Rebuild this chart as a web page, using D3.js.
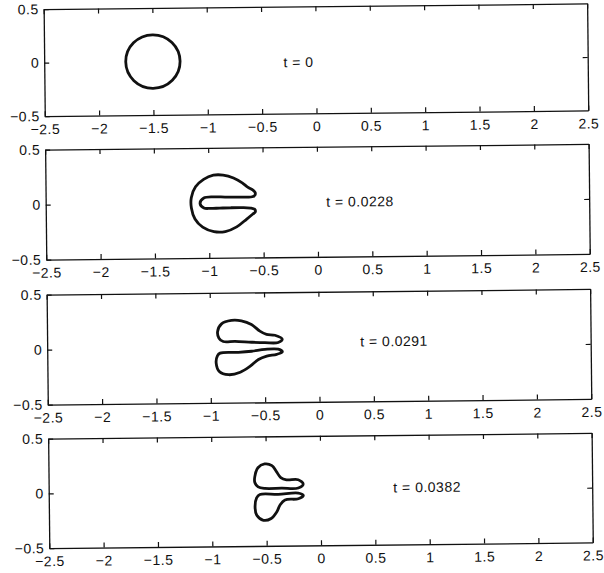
<!DOCTYPE html>
<html>
<head>
<meta charset="utf-8">
<script src="https://cdn.jsdelivr.net/npm/d3@7"></script>
<style>
  body { margin: 0; background: #fff; }
  svg { display: block; }
</style>
</head>
<body>
<svg id="chart" width="604" height="573"></svg>
<script>
// Axis ticks and their printed labels
const xTicks = [-2.5, -2, -1.5, -1, -0.5, 0, 0.5, 1, 1.5, 2, 2.5];
const xTickLabels = ["\u22122.5", "\u22122", "\u22121.5", "\u22121", "\u22120.5", "0", "0.5", "1", "1.5", "2", "2.5"];
const yTicks = [-0.5, 0, 0.5];
const yTickLabels = ["\u22120.5", "0", "0.5"];

// Time of each snapshot
const times = ["0", "0.0228", "0.0291", "0.0382"];

// t = 0: circular drop
const circle0 = { cx: -1.5, cy: 0, r: 0.25 };

// t = 0.0228: drop folded into a C, a thin slot along the axis
const drop0228 = [
  [-0.572, 0.09], [-0.595, 0.115], [-0.64, 0.14], [-0.69, 0.18], [-0.77, 0.225],
  [-0.865, 0.252], [-0.955, 0.252], [-1.045, 0.215], [-1.12, 0.148], [-1.16, 0.05],
  [-1.16, -0.045], [-1.128, -0.145], [-1.058, -0.22], [-0.955, -0.262], [-0.85, -0.262],
  [-0.745, -0.22], [-0.652, -0.15], [-0.595, -0.105], [-0.572, -0.085], [-0.578, -0.062],
  [-0.615, -0.05], [-0.70, -0.046], [-0.80, -0.046], [-0.90, -0.048], [-0.99, -0.05],
  [-1.045, -0.045], [-1.08, -0.003], [-1.045, 0.045], [-0.955, 0.055], [-0.85, 0.052],
  [-0.75, 0.05], [-0.65, 0.05], [-0.60, 0.052], [-0.575, 0.065]
];

// t = 0.0291: two separated lobes
const upper0291 = [
  [-0.931, 0.148], [-0.894, 0.218], [-0.803, 0.248], [-0.711, 0.243], [-0.619, 0.209],
  [-0.542, 0.148], [-0.481, 0.118], [-0.404, 0.109], [-0.337, 0.073], [-0.374, 0.043],
  [-0.496, 0.043], [-0.619, 0.048], [-0.772, 0.057], [-0.880, 0.057], [-0.919, 0.088]
];
const lower0291 = [
  [-0.910, -0.048], [-0.742, -0.043], [-0.619, -0.034], [-0.496, -0.018], [-0.374, -0.018],
  [-0.337, -0.043], [-0.389, -0.064], [-0.481, -0.079], [-0.558, -0.109], [-0.634, -0.170],
  [-0.726, -0.224], [-0.834, -0.245], [-0.919, -0.215], [-0.947, -0.139], [-0.935, -0.073]
];

// t = 0.0382: two lobes with round heads and long thin arms
const upper0382 = [
  [-0.603, 0.131], [-0.573, 0.214], [-0.511, 0.248], [-0.444, 0.232], [-0.403, 0.177],
  [-0.364, 0.122], [-0.311, 0.101], [-0.204, 0.101], [-0.158, 0.061], [-0.204, 0.025],
  [-0.357, 0.025], [-0.511, 0.025], [-0.573, 0.040], [-0.603, 0.080]
];
const lower0382 = [
  [-0.557, -0.030], [-0.389, -0.030], [-0.204, -0.021], [-0.158, -0.043], [-0.204, -0.073],
  [-0.327, -0.082], [-0.373, -0.128], [-0.403, -0.189], [-0.456, -0.250], [-0.527, -0.266],
  [-0.588, -0.220], [-0.603, -0.144], [-0.588, -0.061]
];

// Layout
const frame = { left: 46.5, right: 590 };
const panelRows = [
  { top: 6.5, bottom: 113.5 },
  { top: 147, bottom: 257 },
  { top: 292, bottom: 402 },
  { top: 436, bottom: 545.5 }
];
const labelSpots = [[-0.30, -0.02], [0.08, 0], [0.38, 0.045], [0.67, 0.022]];
const shapesByPanel = [[], [drop0228], [upper0291, lower0291], [upper0382, lower0382]];

const FONT = "'Liberation Sans', Arial, Helvetica, sans-serif";
const INK = "#111";

const svg = d3.select("#chart");
const root = svg.append("g").attr("transform", "rotate(-0.6 300 280)");

function styleAxis(sel) {
  sel.attr("font-family", FONT).attr("font-size", 14);
  sel.select(".domain").attr("stroke", INK).attr("stroke-width", 1.3);
  sel.selectAll(".tick line").attr("stroke", INK).attr("stroke-width", 1.2);
  sel.selectAll(".tick text").attr("fill", INK).style("letter-spacing", "0.5px");
}

panelRows.forEach((row, i) => {
  const x = d3.scaleLinear().domain([-2.5, 2.5]).range([frame.left, frame.right]);
  const y = d3.scaleLinear().domain([-0.5, 0.5]).range([row.bottom, row.top]);
  const g = root.append("g").attr("class", "panel");

  g.append("g")
    .attr("transform", `translate(0,${row.bottom})`)
    .call(d3.axisBottom(x).tickValues(xTicks).tickFormat((d, k) => xTickLabels[k])
      .tickSizeInner(-5).tickSizeOuter(0).tickPadding(8))
    .call(styleAxis);

  g.append("g")
    .attr("transform", `translate(0,${row.top})`)
    .call(d3.axisTop(x).tickValues(xTicks).tickFormat(() => "")
      .tickSizeInner(-5).tickSizeOuter(0))
    .call(styleAxis);

  g.append("g")
    .attr("transform", `translate(${frame.left},0)`)
    .call(d3.axisLeft(y).tickValues(yTicks).tickFormat((d, k) => yTickLabels[k])
      .tickSizeInner(-5).tickSizeOuter(0).tickPadding(5))
    .call(styleAxis);

  g.append("g")
    .attr("transform", `translate(${frame.right},0)`)
    .call(d3.axisRight(y).tickValues([0]).tickFormat(() => "")
      .tickSizeInner(-5).tickSizeOuter(0))
    .call(styleAxis);

  // Interface contours
  if (i === 0) {
    g.append("ellipse")
      .attr("cx", x(circle0.cx))
      .attr("cy", y(circle0.cy))
      .attr("rx", x(circle0.cx + circle0.r) - x(circle0.cx))
      .attr("ry", y(circle0.cy) - y(circle0.cy + circle0.r))
      .attr("fill", "none").attr("stroke", INK).attr("stroke-width", 2.8);
  }
  const line = d3.line()
    .x(d => x(d[0])).y(d => y(d[1]))
    .curve(d3.curveCatmullRomClosed.alpha(0.5));
  g.selectAll("path.contour")
    .data(shapesByPanel[i])
    .join("path")
    .attr("class", "contour")
    .attr("d", line)
    .attr("fill", "none")
    .attr("stroke", INK)
    .attr("stroke-width", 2.8)
    .attr("stroke-linejoin", "round");

  // Time label
  g.append("text")
    .attr("x", x(labelSpots[i][0]))
    .attr("y", y(labelSpots[i][1]))
    .attr("dy", "0.36em")
    .attr("font-family", FONT)
    .attr("font-size", 14)
    .style("letter-spacing", "0.5px")
    .attr("fill", INK)
    .text(`t = ${times[i]}`);
});
</script>
</body>
</html>
